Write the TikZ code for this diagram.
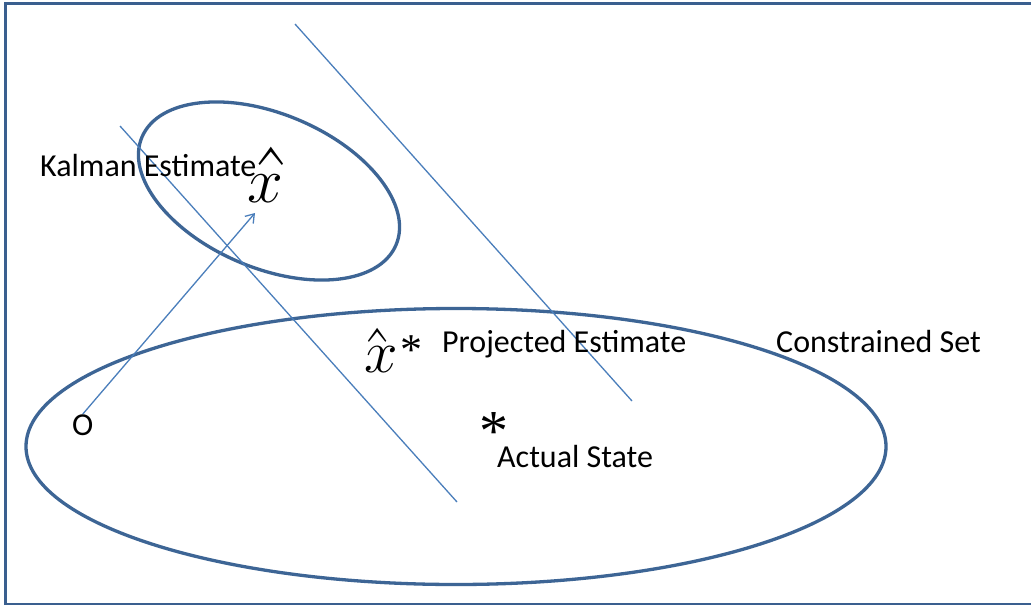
\documentclass[tikz,border=0pt]{standalone}
\usepackage{fontspec}
\setmainfont{Carlito}
\newfontfamily\serifstar{Liberation Serif}
\usetikzlibrary{arrows.meta}
\definecolor{framec}{HTML}{3A5F8F}
\definecolor{ellc}{HTML}{3D6595}
\definecolor{linec}{HTML}{4A7EBB}
\newcommand{\scaledmath}[2]{\scalebox{#1}{\fontsize{20}{24}\selectfont$#2$}}
% x with a tall hat: #1 scale of x, #2 hat x-scale, #3 hat y-scale, #4 hat shift, #5 hat raise
\newcommand{\hatx}[5]{\rlap{\hspace{#4}\raisebox{#5}{\scalebox{#2}[#3]{\fontencoding{OT1}\fontfamily{cmr}\fontsize{20}{24}\selectfont\char"5E}}}\scaledmath{#1}{x}}
\begin{document}
\begin{tikzpicture}[x=1pt,y=-1pt,
  ellstyle/.style={draw=ellc, line width=3.3pt},
  thinl/.style={draw=linec, line width=1.3pt},
  lbl/.style={anchor=base west, inner sep=0pt, font=\fontsize{32}{38}\selectfont},
  mathlbl/.style={anchor=base west, inner sep=0pt},
  star/.style={inner sep=0pt},
]
\useasboundingbox (0,0) rectangle (1031,605);
\clip (0,0) rectangle (1031,605);
\fill[white] (0,0) rectangle (1031,605);
% frame
\draw[framec, line width=3pt] (5.5,610) -- (5.5,3.5) -- (1040,3.5);
\draw[framec, line width=2.5pt] (5.5,603.8) -- (1040,603.8);
% ellipses
\draw[ellstyle] (456,446.5) ellipse [x radius=430, y radius=138];
\draw[ellstyle, rotate around={-23:(269,191)}] (269,191) ellipse [x radius=138, y radius=77];
% lines
\coordinate (l1a) at (120,126);
\coordinate (l1b) at (457,502);
\coordinate (l2a) at (295,24);
\coordinate (l2b) at (632,401);
\draw[thinl] (l1a) -- (l1b);
\draw[thinl] (l2a) -- (l2b);
% texts
\node[lbl] (kal) at (40,176) {Kalman Estimate};
\node[mathlbl] (xhat) at (247,202) {\hatx{3.1}{4.8}{6}{1pt}{-31pt}};
\node[mathlbl] (xhat2) at (364,372) {\hatx{2.9}{3.6}{4.6}{-4pt}{-22.5pt}};
\node[star, font=\serifstar\fontsize{44}{50}\selectfont] (s1) at (411,350) {*};
\node[lbl] (proj) at (442,352) {Projected Estimate};
\node[star, font=\serifstar\fontsize{58}{64}\selectfont] (s2) at (494,432) {*};
\node[lbl] (act) at (497,467) {Actual State};
\node[lbl] (cons) at (776,352) {Constrained Set};
\node[lbl] (O) at (72,435) {O};
% arrow
\coordinate (tip) at (255,213);
\draw[thinl, -{Straight Barb[length=8pt,width=11pt]}] (O.north) -- (tip);
\end{tikzpicture}
\end{document}
